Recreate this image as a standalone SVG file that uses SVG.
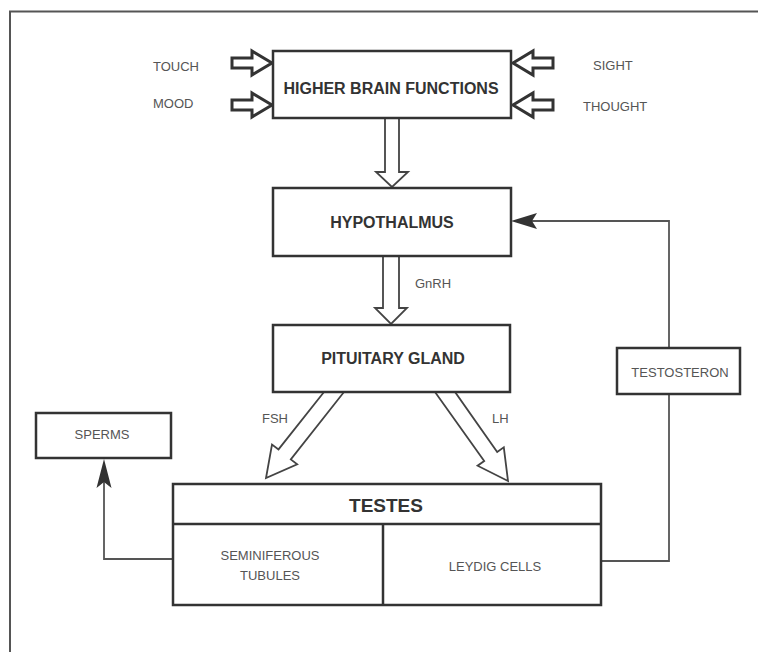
<svg xmlns="http://www.w3.org/2000/svg" width="758" height="652" viewBox="0 0 758 652">
<style>
.box{fill:#fff;stroke:#333;stroke-width:2.5}
.hollow{fill:#fff;stroke:#333;stroke-width:3;stroke-linejoin:miter}
.thin{fill:#fff;stroke:#444;stroke-width:1.8;stroke-linejoin:miter}
.line{fill:none;stroke:#555;stroke-width:1.8}
.head{fill:#333;stroke:none}
.title{font-family:"Liberation Sans",Arial,sans-serif;font-weight:bold;font-size:16px;fill:#333;text-anchor:middle}
.lbl{font-family:"Liberation Sans",Arial,sans-serif;font-size:13px;fill:#555}
.mid{text-anchor:middle}
</style>
<rect width="758" height="652" fill="#fff"/>
<path d="M758,11.5 H10 V652" fill="none" stroke="#555" stroke-width="2"/>

<g id="connectors">
  <polygon class="hollow" points="232,58 252,58 252,51 272,63 252,75 252,68 232,68"/>
  <polygon class="hollow" points="232,100 252,100 252,93 272,105 252,117 252,110 232,110"/>
  <polygon class="hollow" points="553,58 533,58 533,51 513,63 533,75 533,68 553,68"/>
  <polygon class="hollow" points="553,100 533,100 533,93 513,105 533,117 533,110 553,110"/>
  <polygon class="thin" points="385,118 385,172 376,172 392,187 408,172 399,172 399,118"/>
  <polygon class="thin" points="383,256 383,308 375,308 391,324 407,308 399,308 399,256"/>
  <polygon class="thin" points="324,392 278.5,449.4 272,444.5 266,478 297.2,464.3 290.8,459.4 344,392"/>
  <polygon class="thin" points="435,392 484.2,461.1 477.6,465.7 508,481 503.8,447.3 497.2,451.9 455,392"/>
  <polyline class="line" points="601,561 669,561 669,221 530,221"/>
  <polygon class="head" points="511,221 537,213 532,221 537,229"/>
  <polyline class="line" points="173,559 104,559 104,480"/>
  <polygon class="head" points="104,459 111.5,488 104,482 96.5,488"/>
</g>

<g id="higher-brain">
  <rect class="box" x="273" y="51" width="238" height="67"/>
  <text class="title" x="391" y="94">HIGHER BRAIN FUNCTIONS</text>
</g>
<g id="touch"><text class="lbl" x="153" y="71">TOUCH</text></g>
<g id="mood"><text class="lbl" x="153" y="108">MOOD</text></g>
<g id="sight"><text class="lbl" x="593" y="70">SIGHT</text></g>
<g id="thought"><text class="lbl" x="583" y="111">THOUGHT</text></g>

<g id="hypothalmus">
  <rect class="box" x="273" y="188" width="238" height="68"/>
  <text class="title" x="392" y="228">HYPOTHALMUS</text>
</g>
<g id="gnrh"><text class="lbl" x="415" y="288">GnRH</text></g>

<g id="pituitary">
  <rect class="box" x="273" y="325" width="237" height="67"/>
  <text class="title" x="393" y="364">PITUITARY GLAND</text>
</g>
<g id="fsh"><text class="lbl" x="262" y="423">FSH</text></g>
<g id="lh"><text class="lbl" x="492" y="423">LH</text></g>

<g id="sperms">
  <rect class="box" x="36" y="413" width="135" height="45"/>
  <text class="lbl mid" x="102" y="439">SPERMS</text>
</g>

<g id="testosteron">
  <rect class="box" x="617" y="348" width="123" height="46"/>
  <text class="lbl mid" x="680" y="377">TESTOSTERON</text>
</g>

<g id="testes">
  <rect class="box" x="173" y="484" width="428" height="121"/>
  <line x1="173" y1="524" x2="601" y2="524" stroke="#333" stroke-width="2.5"/>
  <line x1="383" y1="524" x2="383" y2="605" stroke="#333" stroke-width="2.5"/>
  <text class="title" x="386" y="512" font-size="19" style="font-size:19px">TESTES</text>
</g>
<g id="seminiferous">
  <text class="lbl mid" x="270" y="560">SEMINIFEROUS</text>
  <text class="lbl mid" x="270" y="580">TUBULES</text>
</g>
<g id="leydig">
  <text class="lbl mid" x="495" y="571">LEYDIG CELLS</text>
</g>
</svg>
